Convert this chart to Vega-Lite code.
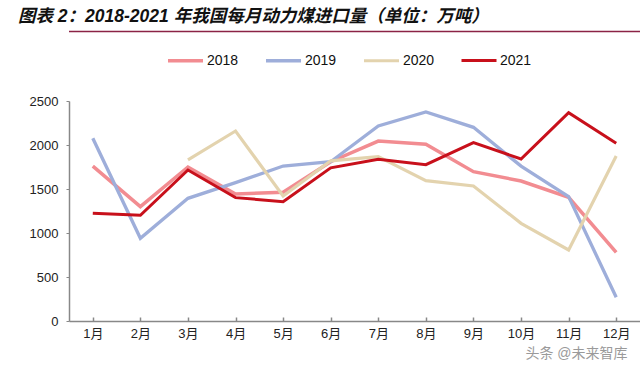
{
  "$schema": "https://vega.github.io/schema/vega-lite/v6.json",
  "width": 571,
  "height": 220,
  "autosize": {"type": "none"},
  "padding": {"left": 69, "top": 101, "right": 0, "bottom": 51},
  "background": "white",
  "title": {
    "text": "图表 2：2018-2021 年我国每月动力煤进口量（单位：万吨）",
    "anchor": "start",
    "frame": "group",
    "dx": -51,
    "offset": 5,
    "font": "Liberation Sans, Noto Sans CJK SC",
    "fontSize": 17.5,
    "fontWeight": "bold",
    "fontStyle": "italic",
    "color": "#111111"
  },
  "config": {
    "view": {"stroke": null},
    "font": "Liberation Sans, Noto Sans CJK SC"
  },
  "layer": [
    {
      "data": {
        "values": [
          {"month": "1月", "year": "2018", "value": 1760},
          {"month": "2月", "year": "2018", "value": 1300},
          {"month": "3月", "year": "2018", "value": 1750},
          {"month": "4月", "year": "2018", "value": 1443},
          {"month": "5月", "year": "2018", "value": 1462},
          {"month": "6月", "year": "2018", "value": 1810},
          {"month": "7月", "year": "2018", "value": 2045},
          {"month": "8月", "year": "2018", "value": 2008},
          {"month": "9月", "year": "2018", "value": 1697},
          {"month": "10月", "year": "2018", "value": 1591},
          {"month": "11月", "year": "2018", "value": 1405},
          {"month": "12月", "year": "2018", "value": 780},
          {"month": "1月", "year": "2019", "value": 2076},
          {"month": "2月", "year": "2019", "value": 940},
          {"month": "3月", "year": "2019", "value": 1394},
          {"month": "4月", "year": "2019", "value": 1572},
          {"month": "5月", "year": "2019", "value": 1761},
          {"month": "6月", "year": "2019", "value": 1810},
          {"month": "7月", "year": "2019", "value": 2216},
          {"month": "8月", "year": "2019", "value": 2375},
          {"month": "9月", "year": "2019", "value": 2201},
          {"month": "10月", "year": "2019", "value": 1760},
          {"month": "11月", "year": "2019", "value": 1413},
          {"month": "12月", "year": "2019", "value": 269},
          {"month": "3月", "year": "2020", "value": 1830},
          {"month": "4月", "year": "2020", "value": 2159},
          {"month": "5月", "year": "2020", "value": 1420},
          {"month": "6月", "year": "2020", "value": 1820},
          {"month": "7月", "year": "2020", "value": 1867},
          {"month": "8月", "year": "2020", "value": 1595},
          {"month": "9月", "year": "2020", "value": 1534},
          {"month": "10月", "year": "2020", "value": 1110},
          {"month": "11月", "year": "2020", "value": 807},
          {"month": "12月", "year": "2020", "value": 1875},
          {"month": "1月", "year": "2021", "value": 1224},
          {"month": "2月", "year": "2021", "value": 1201},
          {"month": "3月", "year": "2021", "value": 1716},
          {"month": "4月", "year": "2021", "value": 1402},
          {"month": "5月", "year": "2021", "value": 1356},
          {"month": "6月", "year": "2021", "value": 1740},
          {"month": "7月", "year": "2021", "value": 1837},
          {"month": "8月", "year": "2021", "value": 1777},
          {"month": "9月", "year": "2021", "value": 2027},
          {"month": "10月", "year": "2021", "value": 1841},
          {"month": "11月", "year": "2021", "value": 2367},
          {"month": "12月", "year": "2021", "value": 2019}
        ]
      },
      "mark": {"type": "line", "strokeCap": "butt", "strokeJoin": "miter"},
      "encoding": {
        "x": {
          "field": "month",
          "type": "ordinal",
          "sort": ["1月", "2月", "3月", "4月", "5月", "6月", "7月", "8月", "9月", "10月", "11月", "12月"],
          "scale": {"paddingInner": 0, "paddingOuter": 0},
          "axis": {
            "title": "头条 @未来智库",
            "titleAnchor": "end",
            "titleAlign": "right",
            "titleColor": "#9a9a9a",
            "titleFontSize": 14,
            "titleFontWeight": "normal",
            "titlePadding": 6,
            "titleX": 558,
            "labelAngle": 0,
            "labelFontSize": 13,
            "labelColor": "#222222",
            "labelPadding": 10,
            "bandPosition": 0,
            "domainColor": "#888888",
            "domainWidth": 1.5,
            "tickColor": "#888888",
            "tickWidth": 1.5,
            "tickSize": -4,
            "grid": false
          }
        },
        "y": {
          "field": "value",
          "type": "quantitative",
          "scale": {"domain": [0, 2500], "nice": false},
          "axis": {
            "title": null,
            "values": [0, 500, 1000, 1500, 2000, 2500],
            "format": "d",
            "labelFontSize": 13,
            "labelColor": "#222222",
            "labelPadding": 8,
            "domainColor": "#888888",
            "domainWidth": 1.5,
            "tickColor": "#888888",
            "tickSize": 3,
            "grid": false
          }
        },
        "color": {
          "field": "year",
          "type": "nominal",
          "scale": {
            "domain": ["2018", "2019", "2020", "2021"],
            "range": ["#F28C91", "#9EAEDA", "#E3D3AE", "#C8101B"]
          },
          "legend": {
            "title": null,
            "orient": "none",
            "direction": "horizontal",
            "legendX": 97,
            "legendY": -60,
            "symbolType": "stroke",
            "symbolSize": 1225,
            "symbolStrokeWidth": 4,
            "labelFontSize": 14,
            "labelColor": "#111111",
            "labelOffset": 2,
            "columnPadding": 20
          }
        },
        "strokeWidth": {
          "field": "year",
          "type": "nominal",
          "scale": {"domain": ["2018", "2019", "2020", "2021"], "range": [3.5, 3, 3, 4]},
          "legend": null
        }
      }
    },
    {
      "data": {"values": [{"sep": 3290}]},
      "mark": {"type": "rule", "color": "#8B2346", "strokeWidth": 1.5},
      "encoding": {
        "y": {"field": "sep", "type": "quantitative"}
      }
    }
  ]
}
